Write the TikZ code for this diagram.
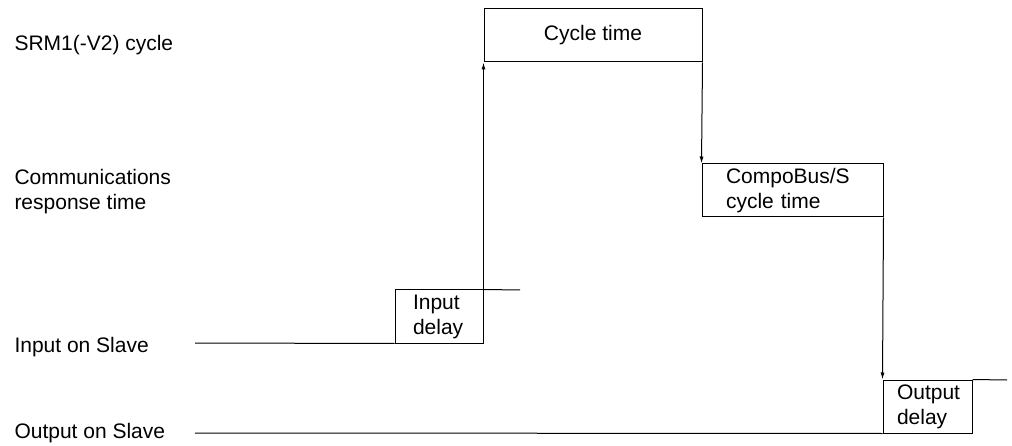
\documentclass[tikz,border=0pt]{standalone}
\usepackage{fontspec}
\setmainfont{Liberation Sans}
\usetikzlibrary{arrows.meta}
\begin{document}
\begin{tikzpicture}[x=1pt,y=-1pt,line width=1pt,
  txt/.style={anchor=west,inner sep=0pt,align=left,font=\fontsize{21}{25}\selectfont},
  stage/.style={draw,rectangle,inner sep=0pt,font=\fontsize{21}{25}\selectfont},
  tip/.style={-{Latex[length=7pt,width=4pt]}}]

  \useasboundingbox (0,0) rectangle (1012,446);

  %% row labels
  \node[txt] (lcyc) at (14,45) {SRM1(-V2) cycle};
  \node[txt] (lcom) at (14,192) {Communications\\response time};
  \node[txt] (lin)  at (14,347) {Input on Slave};
  \node[txt] (lout) at (14,433) {Output on Slave};

  %% stages
  \node[stage,minimum width=218,minimum height=53] (cyc) at (593,35.5) {Cycle time};
  \node[stage,minimum width=181,minimum height=53,align=left,text width=133]
    (bus) at (792.5,190.5) {CompoBus/S\\cycle time};
  \node[stage,minimum width=88,minimum height=53,align=left,text width=52]
    (inbox) at (439,316.5) {Input\\delay};
  \node[stage,minimum width=89,minimum height=53,align=left,text width=61]
    (outbox) at (927.5,406.5) {Output\\delay};

  %% signal lines
  \coordinate (in0) at (195,343);
  \coordinate (in1) at (520,290);
  \coordinate (out0) at (195,433);
  \coordinate (out1) at (1007,380);
  \draw (in0) -- (inbox.south west);
  \draw (inbox.north east) -- (in1);
  \draw (out0) -- (outbox.south west);
  \draw (outbox.north east) -- (out1);

  %% timing arrows
  \draw[tip] (inbox.south east) -- (cyc.south west);
  \draw[tip] (cyc.south east) -- (bus.north west);
  \draw[tip] (bus.south east) -- (outbox.north west);

\end{tikzpicture}
\end{document}
